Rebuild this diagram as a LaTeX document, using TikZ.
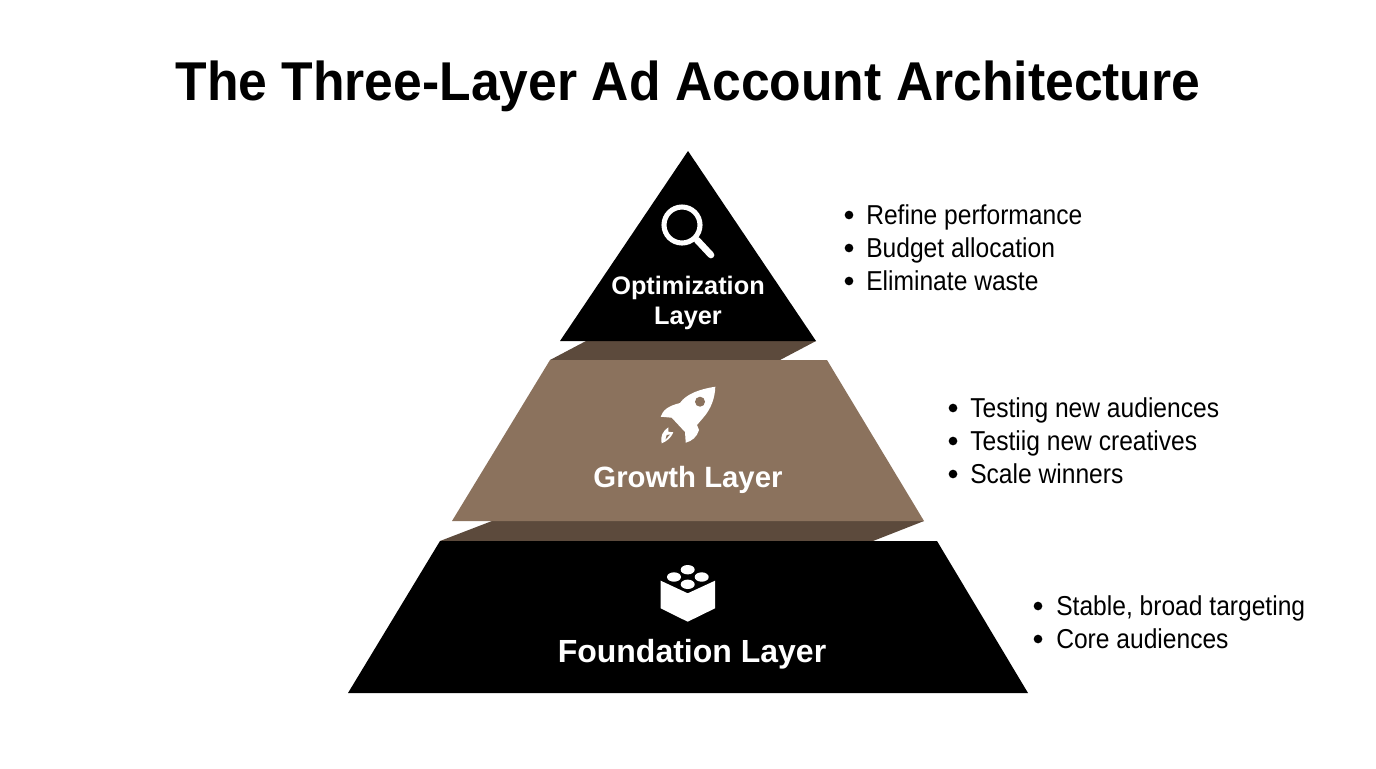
\documentclass[tikz,border=0pt]{standalone}
\usepackage{fontspec}
\setmainfont{Liberation Sans}
\newfontfamily\itemfont[FakeStretch=0.9]{Liberation Sans}
\newfontfamily\titlefont[FakeStretch=0.945]{Liberation Sans}
\usepackage{tikz}
\definecolor{layerbrown}{HTML}{8B725D}
\definecolor{shadebrown}{HTML}{5C4A3C}
\tikzset{
	titletext/.style={anchor=base, inner sep=0pt, font=\titlefont\bfseries\fontsize{41pt}{41pt}\selectfont},
	layertext/.style={anchor=base, inner sep=0pt, text=white, font=\bfseries\fontsize{#1}{#1}\selectfont},
	itemtext/.style={anchor=base west, inner sep=0pt, font=\itemfont\fontsize{20.5pt}{20.5pt}\selectfont},
	dotmark/.style={circle, fill=black, inner sep=0pt, minimum size=6.5pt},
	icon/.style={fill=white, draw=none},
}
\begin{document}
\begin{tikzpicture}[x=0.75pt, y=-0.75pt]
	\useasboundingbox (0,0) rectangle (1376,768);
	\node[titletext] (title) at (688,100) {The Three-Layer Ad Account Architecture};

	\fill[shadebrown] (586,341) -- (816,341) -- (780,360) -- (550,360) -- cycle;
	\fill[shadebrown] (492,521) -- (924,521) -- (873,541) -- (440,541) -- cycle;
	\fill[black] (688,151) -- (816,341) -- (560,341) -- cycle;
	\fill[layerbrown] (550,360) -- (827,360) -- (924,521) -- (452,521) -- cycle;
	\fill[black] (440,541) -- (937,541) -- (1028,693) -- (348,693) -- cycle;

	\draw[white, line width=3.8pt] (682,225) circle (18);
	\draw[white, line width=5pt, line cap=round] (697,240) -- (711,255);

	\fill[icon] (715.3,386.7) .. controls (715,398) and (711,409) .. (703,418) -- (697,425) -- (699,430) .. controls (697,437) and (692,441) .. (685.7,442.7) -- (685,432) -- (671.7,417.7) -- (660.7,416.7) .. controls (663,410) and (668,406) .. (680,403) .. controls (686,394) and (700,389) .. cycle;
	\fill[layerbrown] (700,401.7) circle (5);
	\fill[icon] (661.7,443.3) .. controls (660,436) and (663,431) .. (668.3,427.3) -- (668.3,431.7) -- (673.3,432.3) .. controls (671,438) and (667,441) .. cycle;
	\fill[layerbrown] (666.7,435) -- (670,434.5) -- (665.5,439.5) -- cycle;

	\fill[icon] (660.7,580.7) -- (687.7,593.3) -- (715,580.7) -- (715,608.3) -- (687.7,621.7) -- (660.7,608.3) -- cycle;
	\fill[icon] (687.7,569.7) ellipse (7 and 4.7);
	\fill[icon] (674,577) ellipse (7 and 4.7);
	\fill[icon] (701.7,577) ellipse (7 and 4.7);
	\fill[icon] (687.7,584.3) ellipse (7 and 4.7);

	\node[layertext=19pt] (optimization) at (688,294) {Optimization};
	\node[layertext=19pt] (optimizationlayer) at (688,324) {Layer};
	\node[layertext=22pt] (growth) at (688,487) {Growth Layer};
	\node[layertext=24pt] (foundation) at (692,662) {Foundation Layer};

	\node[dotmark] (dotrefine) at (849,215) {};
	\node[dotmark] (dotbudget) at (849,248) {};
	\node[dotmark] (dotwaste) at (849,281) {};
	\node[itemtext] (refine) at (866,224) {Refine performance};
	\node[itemtext] (budget) at (866,257) {Budget allocation};
	\node[itemtext] (waste) at (866,290) {Eliminate waste};

	\node[dotmark] (dotaudiences) at (953,408) {};
	\node[dotmark] (dotcreatives) at (953,441) {};
	\node[dotmark] (dotscale) at (953,474) {};
	\node[itemtext] (audiences) at (970,417) {Testing new audiences};
	\node[itemtext] (creatives) at (970,450) {Testiig new creatives};
	\node[itemtext] (scale) at (970,483) {Scale winners};

	\node[dotmark] (dotstable) at (1038,606) {};
	\node[dotmark] (dotcore) at (1038,639) {};
	\node[itemtext] (stable) at (1056,615) {Stable, broad targeting};
	\node[itemtext] (core) at (1056,648) {Core audiences};
\end{tikzpicture}
\end{document}
